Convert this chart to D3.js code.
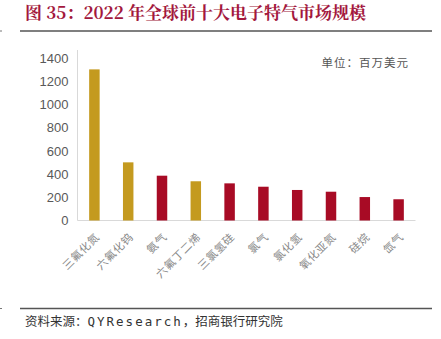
<!DOCTYPE html>
<html><head><meta charset="utf-8">
<script src="https://cdn.jsdelivr.net/npm/d3@7"></script>
<style>body{margin:0;background:#fff;}svg{display:block;}</style>
</head><body>
<script>
const categories = ["三氟化氮","六氟化钨","氨气","六氟丁二烯","三氯氢硅","氯气","氯化氢","氧化亚氮","硅烷","氙气"];
const values = [1302, 501, 386, 338, 320, 291, 263, 248, 202, 183];
const highlight = [true, true, false, true, false, false, false, false, false, false];
const yTicks = [0, 200, 400, 600, 800, 1000, 1200, 1400];
const title = "图 35：2022 年全球前十大电子特气市场规模";
const unit = "单位：百万美元";
const sourceParts = ["资料来源：", "QYResearch", "，招商银行研究院"];

const W = 441, H = 339;
const svg = d3.select("body").append("svg").attr("width", W).attr("height", H);

// title
svg.append("text").attr("x", 25).attr("y", 18.5)
  .attr("font-family", "'Noto Serif CJK SC','Noto Sans CJK SC',serif")
  .attr("font-weight", "bold").attr("font-size", 17).attr("fill", "#A3183D")
  .text(title);
svg.append("line").attr("x1", 20).attr("x2", 432).attr("y1", 31).attr("y2", 31)
  .attr("stroke", "#555").attr("stroke-width", 1.6);
svg.append("line").attr("x1", 0).attr("x2", 2).attr("y1", 31).attr("y2", 31).attr("stroke", "#777");

const x = d3.scaleBand().domain(categories).range([77.5, 415.5]).paddingInner(0.69).paddingOuter(0.345);
const y = d3.scaleLinear().domain([0, 1400]).range([220.5, 58]);

// axes lines
svg.append("line").attr("x1", 77.5).attr("x2", 77.5).attr("y1", 50).attr("y2", 220.5).attr("stroke", "#d9d9d9");
svg.append("line").attr("x1", 77.5).attr("x2", 415.5).attr("y1", 220.5).attr("y2", 220.5).attr("stroke", "#d9d9d9");

// y ticks
svg.append("g").selectAll("text").data(yTicks).join("text")
  .attr("x", 68.5).attr("y", d => y(d)).attr("dy", "0.36em")
  .attr("text-anchor", "end").attr("font-family", "Arial, 'Liberation Sans', sans-serif")
  .attr("font-size", 13).attr("fill", "#595959").text(d => d);

// bars
svg.append("g").selectAll("rect").data(values).join("rect")
  .attr("x", (d, i) => x(categories[i])).attr("width", x.bandwidth())
  .attr("y", d => y(d)).attr("height", d => y(0) - y(d))
  .attr("fill", (d, i) => highlight[i] ? "#C49A1F" : "#A80B25");

// x labels
svg.append("g").selectAll("text").data(categories).join("text")
  .attr("transform", d => `translate(${x(d) + x.bandwidth() / 2 + 3},${235}) rotate(-45)`)
  .attr("text-anchor", "end").attr("dy", "0.35em")
  .attr("font-family", "'Noto Sans CJK SC', sans-serif").attr("font-size", 11)
  .attr("letter-spacing", 0.6).attr("fill", "#888").text(d => d);

// unit
svg.append("text").attr("x", 409).attr("y", 63).attr("dy", "0.35em").attr("text-anchor", "end")
  .attr("font-family", "'Noto Sans CJK SC', sans-serif").attr("font-size", 11.5)
  .attr("letter-spacing", 1).attr("fill", "#555").text(unit);

// footer
svg.append("line").attr("x1", 20).attr("x2", 432).attr("y1", 308.5).attr("y2", 308.5)
  .attr("stroke", "#555").attr("stroke-width", 1.4);
svg.append("line").attr("x1", 0).attr("x2", 2).attr("y1", 308.5).attr("y2", 308.5).attr("stroke", "#777");
const src = svg.append("text").attr("x", 25).attr("y", 320).attr("dy", "0.35em")
  .attr("fill", "#333");
src.append("tspan").attr("font-family", "'Noto Sans CJK SC', sans-serif").attr("font-size", 12.5).text(sourceParts[0]);
src.append("tspan").attr("font-family", "'DejaVu Sans Mono', monospace").attr("font-size", 12.5)
  .attr("letter-spacing", 2).text(sourceParts[1]);
src.append("tspan").attr("font-family", "'Noto Sans CJK SC', sans-serif").attr("font-size", 12.5).text(sourceParts[2]);
</script>
</body></html>
